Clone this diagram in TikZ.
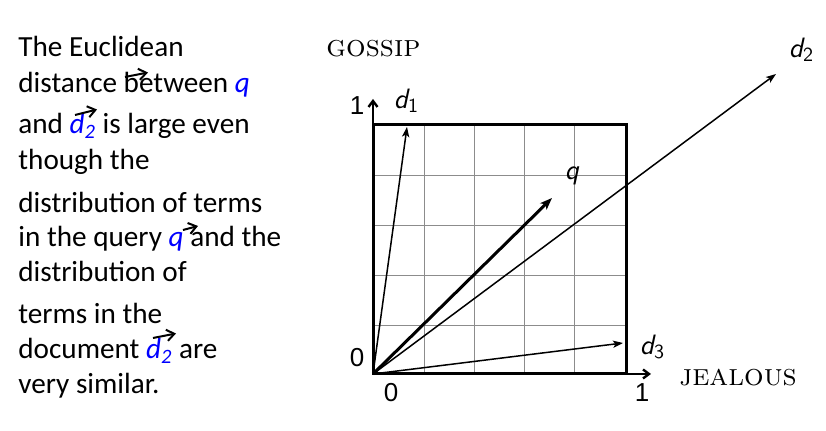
\documentclass[tikz,border=0pt]{standalone}
\usepackage{fontspec}
\newfontfamily\carlito{Carlito}
\newfontfamily\lsans{Liberation Sans}
\usetikzlibrary{arrows.meta}
\newcommand{\dsub}[1]{{\sffamily\itshape d}{\sffamily\fontsize{10}{10}\selectfont\raisebox{-0.2em}{#1}}}
\begin{document}
\begin{tikzpicture}[x=0.5pt,y=-0.5pt,
  txt/.style={anchor=base west, inner sep=0pt, font=\carlito\fontsize{14.6}{17}\selectfont},
  vecarrow/.style={-{Stealth[length=5pt,width=3.6pt,inset=1.2pt]}, line width=0.75pt},
  qarrow/.style={-{Stealth[length=6pt,width=4.5pt,inset=1.5pt]}, line width=1.5pt},
  textarrow/.style={-{Straight Barb[length=3.8pt,width=5.6pt]}, line width=1pt},
  frameline/.style={line width=1.5pt},
  axisline/.style={line width=1.2pt, -{Straight Barb[length=3pt,width=4.5pt]}},
  gridline/.style={draw=black!45, line width=0.45pt},
  ticklab/.style={inner sep=0pt, font=\lsans\fontsize{13}{13}\selectfont},
  veclab/.style={inner sep=0pt, font=\fontsize{14}{14}\selectfont},
  axislab/.style={inner sep=0pt, font=\fontsize{15.4}{15}\selectfont\scshape}
]
\useasboundingbox (0,0) rectangle (826,431);

% ---------- left text ----------
\node[txt] (l1) at (18,57) {The Euclidean};
\node[txt] (l2) at (18,93) {distance between \textcolor{blue}{\textit{q}}};
\node[txt] (l3) at (18,134) {and \textcolor{blue}{\textit{d\textsubscript{2}}} is large even};
\node[txt] (l4) at (18,170) {though the};
\node[txt] (l5) at (18,213) {distribution of terms};
\node[txt] (l6) at (18,247) {in the query \textcolor{blue}{\textit{q}} and the};
\node[txt] (l7) at (18,282) {distribution of};
\node[txt] (l8) at (18,324) {terms in the};
\node[txt] (l9) at (18,359) {document \textcolor{blue}{\textit{d\textsubscript{2}}} are};
\node[txt] (l10) at (18,394) {very similar.};

\coordinate (ta1s) at (125,77);  \coordinate (ta1e) at (148,72.5);
\coordinate (ta2s) at (75,115);  \coordinate (ta2e) at (97,109.5);
\coordinate (ta3s) at (183,230); \coordinate (ta3e) at (198,226);
\coordinate (ta4s) at (153,338); \coordinate (ta4e) at (176,333.5);
\draw[textarrow] (ta1s) -- (ta1e);
\draw[textarrow] (ta2s) -- (ta2e);
\draw[textarrow] (ta3s) -- (ta3e);
\draw[textarrow] (ta4s) -- (ta4e);

% ---------- diagram ----------
\coordinate (O) at (373,374);
\coordinate (TR) at (626,125);
\foreach \x in {424,474,524,574} \draw[gridline] (\x,125) -- (\x,374);
\foreach \y in {175,225,275,325} \draw[gridline] (373,\y) -- (626,\y);
\draw[frameline] (O) rectangle (TR);
\coordinate (xend) at (651,374);
\coordinate (yend) at (373,99);
\draw[axisline] (O) -- (xend);
\draw[axisline] (O) -- (yend);

\coordinate (d1) at (407,127);
\coordinate (q) at (552,198);
\coordinate (d2) at (776,74);
\coordinate (d3) at (623,343);
\draw[vecarrow] (O) -- (d1);
\draw[qarrow] (O) -- (q);
\draw[vecarrow] (O) -- (d2);
\draw[vecarrow] (O) -- (d3);

\node[veclab] (ld1) at (406,101) {\dsub{1}};
\node[veclab] (lq) at (572,176) {\sffamily\itshape q};
\node[veclab] (ld2) at (801,50) {\dsub{2}};
\node[veclab] (ld3) at (652,347) {\dsub{3}};

\node[ticklab] (y1) at (357,106) {1};
\node[ticklab] (y0) at (357,358) {0};
\node[ticklab] (x0) at (391,393) {0};
\node[ticklab] (x1) at (642,393) {1};

\node[axislab] (gossip) at (373.5,49) {gossip};
\node[axislab] (jealous) at (738,378) {jealous};
\end{tikzpicture}
\end{document}
